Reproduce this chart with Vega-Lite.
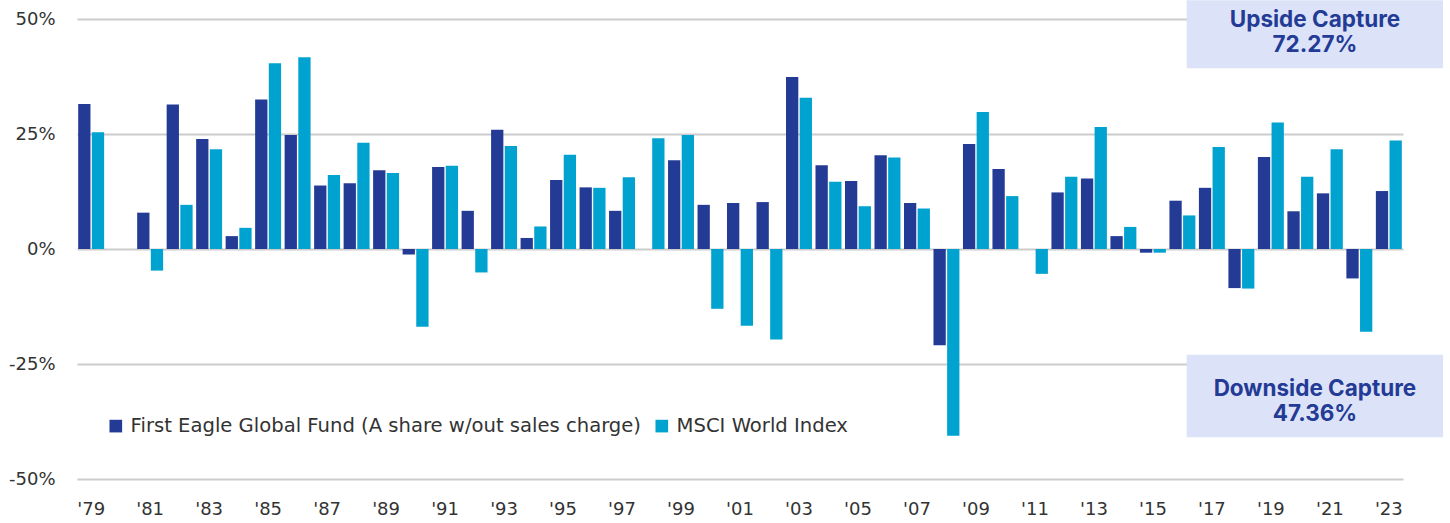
{
  "$schema": "https://vega.github.io/schema/vega-lite/v6.json",
  "width": 1326,
  "height": 460,
  "autosize": {"type": "none"},
  "padding": {"left": 77, "top": 19, "right": 47, "bottom": 44},
  "background": "white",
  "config": {"view": {"stroke": null}, "font": "DejaVu Sans"},
  "datasets": {
    "returns": [
      {"year": 1979, "series": "First Eagle Global Fund (A share w/out sales charge)", "value": 31.5},
      {"year": 1979, "series": "MSCI World Index", "value": 25.4},
      {"year": 1981, "series": "First Eagle Global Fund (A share w/out sales charge)", "value": 7.9},
      {"year": 1981, "series": "MSCI World Index", "value": -4.7},
      {"year": 1982, "series": "First Eagle Global Fund (A share w/out sales charge)", "value": 31.4},
      {"year": 1982, "series": "MSCI World Index", "value": 9.6},
      {"year": 1983, "series": "First Eagle Global Fund (A share w/out sales charge)", "value": 23.9},
      {"year": 1983, "series": "MSCI World Index", "value": 21.7},
      {"year": 1984, "series": "First Eagle Global Fund (A share w/out sales charge)", "value": 2.8},
      {"year": 1984, "series": "MSCI World Index", "value": 4.6},
      {"year": 1985, "series": "First Eagle Global Fund (A share w/out sales charge)", "value": 32.5},
      {"year": 1985, "series": "MSCI World Index", "value": 40.4},
      {"year": 1986, "series": "First Eagle Global Fund (A share w/out sales charge)", "value": 24.8},
      {"year": 1986, "series": "MSCI World Index", "value": 41.7},
      {"year": 1987, "series": "First Eagle Global Fund (A share w/out sales charge)", "value": 13.8},
      {"year": 1987, "series": "MSCI World Index", "value": 16.1},
      {"year": 1988, "series": "First Eagle Global Fund (A share w/out sales charge)", "value": 14.3},
      {"year": 1988, "series": "MSCI World Index", "value": 23.1},
      {"year": 1989, "series": "First Eagle Global Fund (A share w/out sales charge)", "value": 17.1},
      {"year": 1989, "series": "MSCI World Index", "value": 16.5},
      {"year": 1990, "series": "First Eagle Global Fund (A share w/out sales charge)", "value": -1.2},
      {"year": 1990, "series": "MSCI World Index", "value": -16.9},
      {"year": 1991, "series": "First Eagle Global Fund (A share w/out sales charge)", "value": 17.8},
      {"year": 1991, "series": "MSCI World Index", "value": 18.1},
      {"year": 1992, "series": "First Eagle Global Fund (A share w/out sales charge)", "value": 8.3},
      {"year": 1992, "series": "MSCI World Index", "value": -5.1},
      {"year": 1993, "series": "First Eagle Global Fund (A share w/out sales charge)", "value": 25.9},
      {"year": 1993, "series": "MSCI World Index", "value": 22.4},
      {"year": 1994, "series": "First Eagle Global Fund (A share w/out sales charge)", "value": 2.4},
      {"year": 1994, "series": "MSCI World Index", "value": 4.9},
      {"year": 1995, "series": "First Eagle Global Fund (A share w/out sales charge)", "value": 15.0},
      {"year": 1995, "series": "MSCI World Index", "value": 20.5},
      {"year": 1996, "series": "First Eagle Global Fund (A share w/out sales charge)", "value": 13.4},
      {"year": 1996, "series": "MSCI World Index", "value": 13.3},
      {"year": 1997, "series": "First Eagle Global Fund (A share w/out sales charge)", "value": 8.3},
      {"year": 1997, "series": "MSCI World Index", "value": 15.6},
      {"year": 1998, "series": "MSCI World Index", "value": 24.1},
      {"year": 1999, "series": "First Eagle Global Fund (A share w/out sales charge)", "value": 19.3},
      {"year": 1999, "series": "MSCI World Index", "value": 24.8},
      {"year": 2000, "series": "First Eagle Global Fund (A share w/out sales charge)", "value": 9.6},
      {"year": 2000, "series": "MSCI World Index", "value": -13.0},
      {"year": 2001, "series": "First Eagle Global Fund (A share w/out sales charge)", "value": 10.0},
      {"year": 2001, "series": "MSCI World Index", "value": -16.7},
      {"year": 2002, "series": "First Eagle Global Fund (A share w/out sales charge)", "value": 10.2},
      {"year": 2002, "series": "MSCI World Index", "value": -19.7},
      {"year": 2003, "series": "First Eagle Global Fund (A share w/out sales charge)", "value": 37.4},
      {"year": 2003, "series": "MSCI World Index", "value": 32.9},
      {"year": 2004, "series": "First Eagle Global Fund (A share w/out sales charge)", "value": 18.2},
      {"year": 2004, "series": "MSCI World Index", "value": 14.6},
      {"year": 2005, "series": "First Eagle Global Fund (A share w/out sales charge)", "value": 14.8},
      {"year": 2005, "series": "MSCI World Index", "value": 9.3},
      {"year": 2006, "series": "First Eagle Global Fund (A share w/out sales charge)", "value": 20.4},
      {"year": 2006, "series": "MSCI World Index", "value": 19.9},
      {"year": 2007, "series": "First Eagle Global Fund (A share w/out sales charge)", "value": 10.0},
      {"year": 2007, "series": "MSCI World Index", "value": 8.8},
      {"year": 2008, "series": "First Eagle Global Fund (A share w/out sales charge)", "value": -20.9},
      {"year": 2008, "series": "MSCI World Index", "value": -40.6},
      {"year": 2009, "series": "First Eagle Global Fund (A share w/out sales charge)", "value": 22.8},
      {"year": 2009, "series": "MSCI World Index", "value": 29.8},
      {"year": 2010, "series": "First Eagle Global Fund (A share w/out sales charge)", "value": 17.4},
      {"year": 2010, "series": "MSCI World Index", "value": 11.5},
      {"year": 2011, "series": "MSCI World Index", "value": -5.4},
      {"year": 2012, "series": "First Eagle Global Fund (A share w/out sales charge)", "value": 12.3},
      {"year": 2012, "series": "MSCI World Index", "value": 15.7},
      {"year": 2013, "series": "First Eagle Global Fund (A share w/out sales charge)", "value": 15.3},
      {"year": 2013, "series": "MSCI World Index", "value": 26.5},
      {"year": 2014, "series": "First Eagle Global Fund (A share w/out sales charge)", "value": 2.8},
      {"year": 2014, "series": "MSCI World Index", "value": 4.8},
      {"year": 2015, "series": "First Eagle Global Fund (A share w/out sales charge)", "value": -0.8},
      {"year": 2015, "series": "MSCI World Index", "value": -0.8},
      {"year": 2016, "series": "First Eagle Global Fund (A share w/out sales charge)", "value": 10.5},
      {"year": 2016, "series": "MSCI World Index", "value": 7.3},
      {"year": 2017, "series": "First Eagle Global Fund (A share w/out sales charge)", "value": 13.3},
      {"year": 2017, "series": "MSCI World Index", "value": 22.2},
      {"year": 2018, "series": "First Eagle Global Fund (A share w/out sales charge)", "value": -8.5},
      {"year": 2018, "series": "MSCI World Index", "value": -8.6},
      {"year": 2019, "series": "First Eagle Global Fund (A share w/out sales charge)", "value": 20.0},
      {"year": 2019, "series": "MSCI World Index", "value": 27.5},
      {"year": 2020, "series": "First Eagle Global Fund (A share w/out sales charge)", "value": 8.2},
      {"year": 2020, "series": "MSCI World Index", "value": 15.7},
      {"year": 2021, "series": "First Eagle Global Fund (A share w/out sales charge)", "value": 12.1},
      {"year": 2021, "series": "MSCI World Index", "value": 21.7},
      {"year": 2022, "series": "First Eagle Global Fund (A share w/out sales charge)", "value": -6.4},
      {"year": 2022, "series": "MSCI World Index", "value": -18.0},
      {"year": 2023, "series": "First Eagle Global Fund (A share w/out sales charge)", "value": 12.6},
      {"year": 2023, "series": "MSCI World Index", "value": 23.6}
    ]
  },
  "layer": [
    {
      "data": {"name": "returns"},
      "mark": {"type": "bar"},
      "encoding": {
        "x": {
          "field": "year",
          "type": "ordinal",
          "scale": {"domain": [1979,1980,1981,1982,1983,1984,1985,1986,1987,1988,1989,1990,1991,1992,1993,1994,1995,1996,1997,1998,1999,2000,2001,2002,2003,2004,2005,2006,2007,2008,2009,2010,2011,2012,2013,2014,2015,2016,2017,2018,2019,2020,2021,2022,2023], "paddingInner": 0.12, "paddingOuter": 0.04},
          "axis": {
            "title": null,
            "ticks": false,
            "domain": false,
            "labelAngle": 0,
            "labelPadding": 21,
            "labelFontSize": 18,
            "labelFont": "DejaVu Sans",
            "labelColor": "#333333",
            "labelExpr": "datum.value % 2 == 1 ? \"'\" + substring(toString(datum.value), 2) : ''"
          }
        },
        "xOffset": {
          "field": "series",
          "type": "nominal",
          "scale": {"domain": ["First Eagle Global Fund (A share w/out sales charge)", "MSCI World Index"], "paddingInner": 0.1}
        },
        "y": {
          "field": "value",
          "type": "quantitative",
          "scale": {"domain": [-50, 50], "nice": false},
          "axis": {
            "title": null,
            "values": [-50, -25, 0, 25, 50],
            "ticks": false,
            "domain": false,
            "labelPadding": 22,
            "labelFontSize": 18,
            "labelFont": "DejaVu Sans",
            "labelColor": "#333333",
            "labelExpr": "datum.value + '%'",
            "gridColor": "#cccccc",
            "gridWidth": 2
          }
        },
        "color": {
          "field": "series",
          "type": "nominal",
          "scale": {"domain": ["First Eagle Global Fund (A share w/out sales charge)", "MSCI World Index"], "range": ["#243B96", "#00A3CF"]},
          "legend": {
            "title": null,
            "orient": "none",
            "legendX": 29,
            "legendY": 397,
            "direction": "horizontal",
            "symbolType": "square",
            "symbolSize": 160,
            "symbolStrokeWidth": 0,
            "labelFontSize": 19.6,
            "labelFont": "DejaVu Sans",
            "labelColor": "#333333",
            "labelLimit": 0,
            "labelOffset": 5,
            "columnPadding": 10
          }
        }
      }
    },
    {
      "data": {"values": [{}]},
      "mark": {"type": "rect", "color": "#DCE3F9"},
      "encoding": {
        "x": {"datum": 0.8369, "type": "quantitative", "scale": {"domain": [0, 1], "nice": false, "zero": false}, "axis": null},
        "x2": {"datum": 1.0302},
        "y": {"datum": 54.1, "type": "quantitative"},
        "y2": {"datum": 39.3}
      }
    },
    {
      "data": {"values": [{}]},
      "mark": {"type": "rect", "color": "#DCE3F9"},
      "encoding": {
        "x": {"datum": 0.8369, "type": "quantitative", "scale": {"domain": [0, 1], "nice": false, "zero": false}, "axis": null},
        "x2": {"datum": 1.0302},
        "y": {"datum": -23.0, "type": "quantitative"},
        "y2": {"datum": -40.9}
      }
    },
    {
      "data": {"values": [{}]},
      "mark": {"type": "text", "text": ["Upside Capture", "72.27%"], "font": "Inter", "fontWeight": 700, "fontSize": 22.5, "color": "#243B96", "align": "center", "baseline": "alphabetic", "lineHeight": 25},
      "encoding": {
        "x": {"datum": 0.9336, "type": "quantitative", "scale": {"domain": [0, 1], "nice": false, "zero": false}, "axis": null},
        "y": {"datum": 48.3, "type": "quantitative"}
      }
    },
    {
      "data": {"values": [{}]},
      "mark": {"type": "text", "text": ["Downside Capture", "47.36%"], "font": "Inter", "fontWeight": 700, "fontSize": 22.5, "color": "#243B96", "align": "center", "baseline": "alphabetic", "lineHeight": 25},
      "encoding": {
        "x": {"datum": 0.9336, "type": "quantitative", "scale": {"domain": [0, 1], "nice": false, "zero": false}, "axis": null},
        "y": {"datum": -31.9, "type": "quantitative"}
      }
    }
  ],
  "resolve": {"scale": {"x": "independent"}}
}
